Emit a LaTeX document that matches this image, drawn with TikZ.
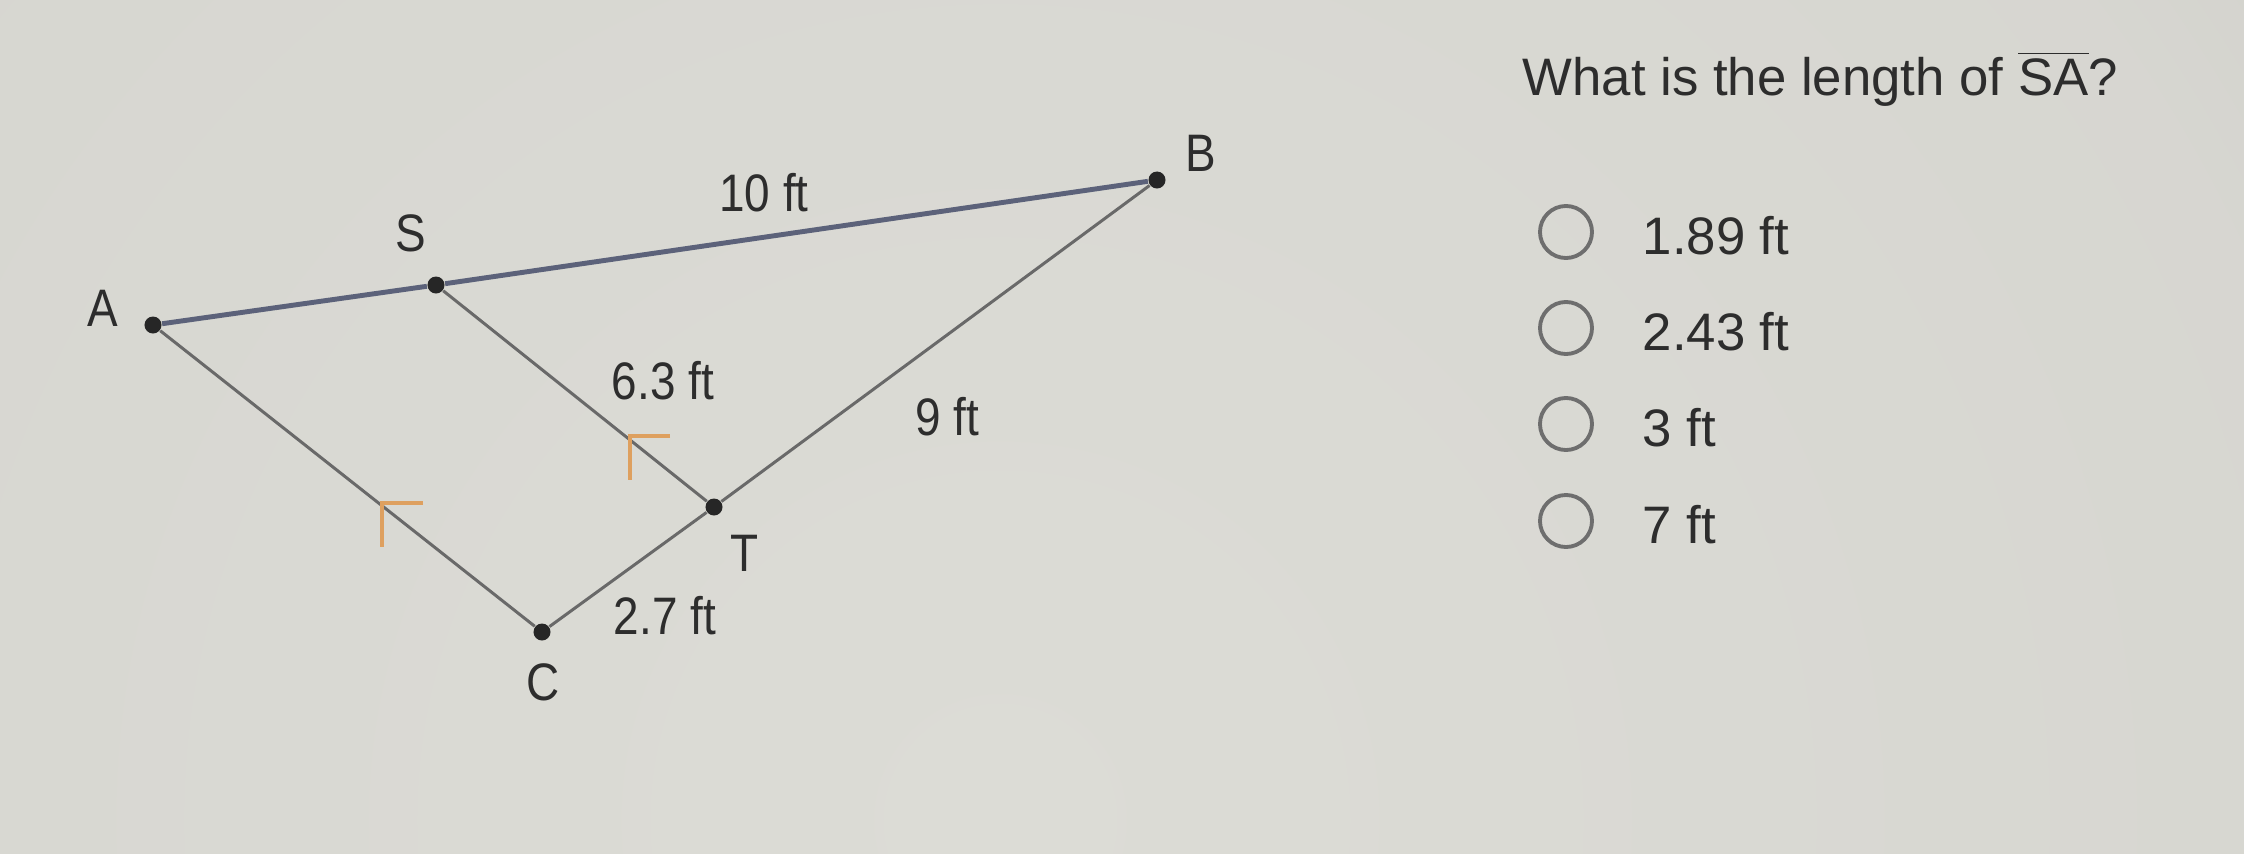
\documentclass[tikz,border=0pt]{standalone}
\usepackage{fontspec}
\setmainfont{Liberation Sans}
\newfontfamily\narrowfont[FakeStretch=0.87]{Liberation Sans}
\definecolor{bgin}{RGB}{220,220,214}
\definecolor{bgout}{RGB}{184,181,178}
\definecolor{ink}{RGB}{45,45,45}
\definecolor{segab}{RGB}{92,98,122}
\definecolor{seg}{RGB}{105,105,105}
\definecolor{tickc}{RGB}{222,160,95}
\definecolor{radio}{RGB}{110,110,110}
\pgfdeclareradialshading{bgshade}{\pgfpoint{0bp}{0bp}}{color(0bp)=(bgin); color(22bp)=(bgin!85!bgout); color(50bp)=(bgout)}
\tikzset{
  dot/.style={circle,fill=black!85,inner sep=0pt,minimum size=0.17cm},
  lbl/.style={inner sep=0pt,text=ink,font=\narrowfont\fontsize{15}{18}\selectfont},
  opt/.style={inner sep=0pt,text=ink,font=\fontsize{15}{18}\selectfont,anchor=base west},
  radiobtn/.style={circle,draw=radio,line width=1.1pt,minimum size=0.52cm,inner sep=0pt},
  thin seg/.style={draw=seg,line width=0.85pt},
  thick seg/.style={draw=segab,line width=1.4pt},
  tickmark/.style={draw=tickc,line width=1.1pt}
}
\begin{document}
\begin{tikzpicture}[x=0.01cm,y=-0.01cm]
\useasboundingbox (0,0) rectangle (2244,854);
\fill[bgout] (0,0) rectangle (2244,854);
\begin{scope}
\clip (0,0) rectangle (2244,854);
\shade[shading=bgshade] (1000,820) circle[radius=1550];
\end{scope}
% points
\node[dot] (A) at (153,325) {};
\node[dot] (S) at (436,285) {};
\node[dot] (B) at (1157,180) {};
\node[dot] (T) at (714,507) {};
\node[dot] (C) at (542,632) {};
% segments
\draw[thick seg] (A) -- (S);
\draw[thick seg] (S) -- (B);
\draw[thin seg] (A) -- (C);
\draw[thin seg] (C) -- (T);
\draw[thin seg] (T) -- (B);
\draw[thin seg] (S) -- (T);
% parallel marks
\draw[tickmark] (423,503) -- (382,503) -- (382,547);
\draw[tickmark] (670,436) -- (630,436) -- (630,480);
% labels
\node[lbl] (lA) at (103,308) {A};
\node[lbl] (lS) at (411,233) {S};
\node[lbl] (lB) at (1201,153) {B};
\node[lbl] (lT) at (745,553) {T};
\node[lbl] (lC) at (543,682) {C};
\node[lbl] (l10) at (764,193) {10 ft};
\node[lbl] (l63) at (663,381) {6.3 ft};
\node[lbl] (l9) at (947,417) {9 ft};
\node[lbl] (l27) at (665,616) {2.7 ft};
% question
\node[opt] (q) at (1522,95) {What is the length of \(\overline{\mbox{SA}}\)?};
\node[radiobtn] (r1) at (1566,232) {};
\node[radiobtn] (r2) at (1566,328) {};
\node[radiobtn] (r3) at (1566,424) {};
\node[radiobtn] (r4) at (1566,521) {};
\node[opt] (o1) at (1642,254) {1.89 ft};
\node[opt] (o2) at (1642,350) {2.43 ft};
\node[opt] (o3) at (1642,446) {3 ft};
\node[opt] (o4) at (1642,543) {7 ft};
\end{tikzpicture}
\end{document}
